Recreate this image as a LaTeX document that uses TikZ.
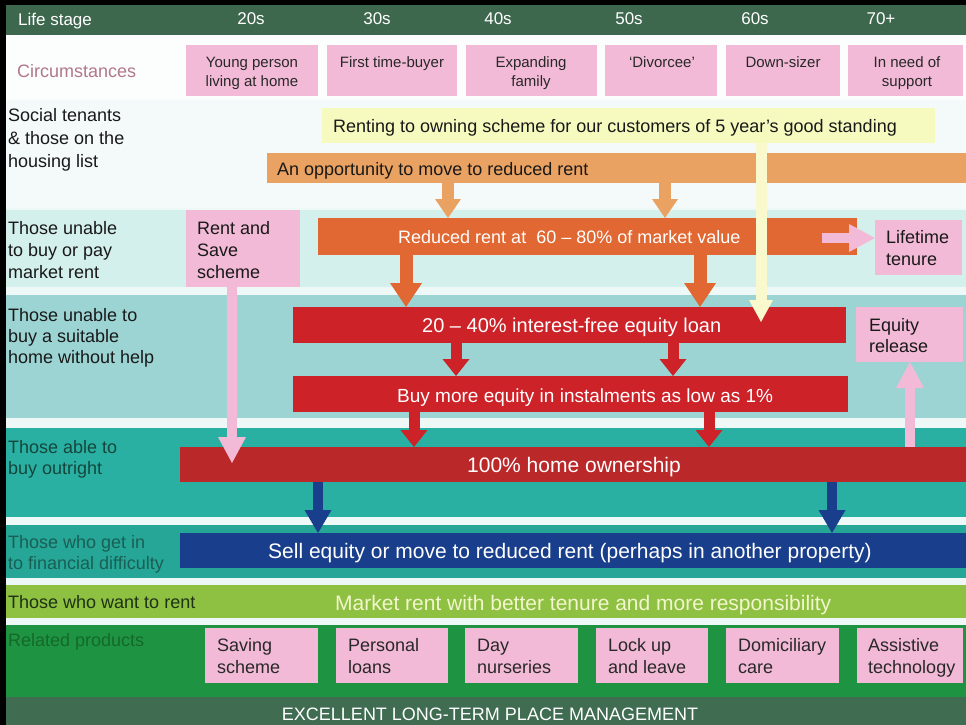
\documentclass[tikz,border=0pt]{standalone}
\usepackage{fontspec}
\setmainfont{Liberation Sans}
\usetikzlibrary{arrows.meta}
\definecolor{hdrc}{RGB}{62,104,78}
\definecolor{rowA}{RGB}{252,253,253}
\definecolor{rowA2}{RGB}{244,250,250}
\definecolor{rowB}{RGB}{212,240,236}
\definecolor{sepc}{RGB}{238,249,247}
\definecolor{rowC}{RGB}{156,212,212}
\definecolor{rowD}{RGB}{42,176,163}
\definecolor{rowE}{RGB}{38,166,150}
\definecolor{rowF}{RGB}{142,192,66}
\definecolor{rowG}{RGB}{30,148,66}
\definecolor{rowH}{RGB}{64,108,82}
\definecolor{pinkc}{RGB}{242,186,214}
\definecolor{circc}{RGB}{176,120,140}
\definecolor{yellc}{RGB}{246,250,190}
\definecolor{yarrc}{RGB}{250,248,205}
\definecolor{oppc}{RGB}{234,162,98}
\definecolor{rrc}{RGB}{225,104,50}
\definecolor{redc}{RGB}{204,34,40}
\definecolor{homec}{RGB}{186,40,42}
\definecolor{bluec}{RGB}{24,62,140}
\definecolor{labc}{RGB}{25,25,25}
\definecolor{ablec}{RGB}{20,70,60}
\definecolor{diffc}{RGB}{25,95,85}
\definecolor{wantc}{RGB}{30,50,20}
\definecolor{relc}{RGB}{20,105,40}
\definecolor{mktc}{RGB}{242,246,205}
\definecolor{boxt}{RGB}{40,40,40}
\begin{document}
\begin{tikzpicture}[x=1pt,y=-1pt,
  bx/.style={anchor=north west, inner sep=0pt, outer sep=0pt, draw=none},
  hd/.style={inner sep=0pt, text=white, font=\fontsize{17}{20}\selectfont},
  lab/.style={anchor=north west, inner sep=0pt, align=left, text=labc, font=\fontsize{18}{22}\selectfont},
  ctext/.style={anchor=north, inner sep=0pt, align=center, text=boxt, font=\fontsize{15}{19}\selectfont},
  mt/.style={anchor=north west, inner sep=0pt, font=\fontsize{18}{22}\selectfont},
  oarr/.style={oppc, line width=12pt, -{Triangle[width=26pt,length=19pt,line width=0pt]}},
  rarr/.style={rrc, line width=13pt, -{Triangle[width=32pt,length=24pt,line width=0pt]}},
  darr/.style={redc, line width=11pt, -{Triangle[width=27pt,length=17pt,line width=0pt]}},
  barr/.style={bluec, line width=10pt, -{Triangle[width=27pt,length=23pt,line width=0pt]}},
  parr/.style={pinkc, line width=10pt, -{Triangle[width=28pt,length=26pt,line width=0pt]}},
  yarr/.style={yarrc, line width=11pt, -{Triangle[width=24pt,length=22pt,line width=0pt]}}
]
\useasboundingbox (0,0) rectangle (966,725);
% background bands
\fill[white] (0,0) rectangle (966,725);
\fill[hdrc] (0,5) rectangle (966,35);
\fill[rowA] (0,35) rectangle (966,100);
\fill[rowA2] (0,100) rectangle (966,208);
\fill[sepc] (0,208) rectangle (966,210);
\fill[rowB] (0,210) rectangle (966,287);
\fill[sepc] (0,287) rectangle (966,295);
\fill[rowC] (0,295) rectangle (966,418);
\fill[sepc] (0,418) rectangle (966,428);
\fill[rowD] (0,428) rectangle (966,517);
\fill[sepc] (0,517) rectangle (966,525);
\fill[rowE] (0,525) rectangle (966,578);
\fill[sepc] (0,578) rectangle (966,585);
\fill[rowF] (0,585) rectangle (966,618);
\fill[sepc] (0,618) rectangle (966,625);
\fill[rowG] (0,625) rectangle (966,697);
\fill[rowH] (0,697) rectangle (966,725);
\fill[black] (0,0) rectangle (966,5);
\fill[black] (0,0) rectangle (6,725);

% header
\node[hd, anchor=north west] (hls) at (18,12.5) {Life stage};
\node[hd, anchor=north] (h20) at (251,12.5) {20s};
\node[hd, anchor=north] (h30) at (377,12.5) {30s};
\node[hd, anchor=north] (h40) at (498,12.5) {40s};
\node[hd, anchor=north] (h50) at (629,12.5) {50s};
\node[hd, anchor=north] (h60) at (755,12.5) {60s};
\node[hd, anchor=north] (h70) at (881,12.5) {70+};

% circumstances
\node[lab, text=circc] (circ) at (17,64.5) {Circumstances};
\node[bx, fill=pinkc, minimum width=132pt, minimum height=51pt] (c1) at (186,45) {};
\node[bx, fill=pinkc, minimum width=130pt, minimum height=51pt] (c2) at (327,45) {};
\node[bx, fill=pinkc, minimum width=131pt, minimum height=51pt] (c3) at (466,45) {};
\node[bx, fill=pinkc, minimum width=112pt, minimum height=51pt] (c4) at (605,45) {};
\node[bx, fill=pinkc, minimum width=114pt, minimum height=51pt] (c5) at (726,45) {};
\node[bx, fill=pinkc, minimum width=115pt, minimum height=51pt] (c6) at (848,45) {};
\node[ctext] (c1t) at (252,56.6) {Young person\\living at home};
\node[ctext] (c2t) at (392,56.6) {First time-buyer};
\node[ctext] (c3t) at (531,56.6) {Expanding\\family};
\node[ctext] (c4t) at (662,56.6) {`Divorcee'};
\node[ctext] (c5t) at (783,56.6) {Down-sizer};
\node[ctext] (c6t) at (907,56.6) {In need of\\support};

% left labels
\node[lab, font=\fontsize{18}{23}\selectfont] (l1) at (8,108.5) {Social tenants\\\& those on the\\housing list};
\node[lab] (l2) at (8,221.5) {Those unable\\to buy or pay\\market rent};
\node[lab, font=\fontsize{18}{21}\selectfont] (l3) at (8,308.5) {Those unable to\\buy a suitable\\home without help};
\node[lab, text=ablec, font=\fontsize{18}{21}\selectfont] (l4) at (8,440.5) {Those able to\\buy outright};
\node[lab, text=diffc, font=\fontsize{18}{21}\selectfont] (l5) at (8,535.5) {Those who get in\\to financial difficulty};
\node[lab, text=wantc] (l6) at (8,595.5) {Those who want to rent};
\node[lab, text=relc] (l7) at (8,633.5) {Related products};

% main boxes
\node[bx, fill=yellc, minimum width=613pt, minimum height=35pt] (ren) at (322,108) {};
\node[bx, fill=oppc, minimum width=699pt, minimum height=30pt] (opp) at (267,153) {};
\node[bx, fill=pinkc, minimum width=114pt, minimum height=77pt] (rs) at (186,210) {};
\node[bx, fill=rrc, minimum width=539pt, minimum height=37pt] (rr) at (318,218) {};
\node[bx, fill=pinkc, minimum width=87pt, minimum height=55pt] (lt) at (875,220) {};
\node[bx, fill=redc, minimum width=553pt, minimum height=36pt] (eq) at (293,307) {};
\node[bx, fill=pinkc, minimum width=107pt, minimum height=55pt] (er) at (856,307) {};
\node[bx, fill=redc, minimum width=555pt, minimum height=36pt] (bm) at (293,376) {};
\node[bx, fill=homec, minimum width=786pt, minimum height=35pt] (home) at (180,447) {};
\node[bx, fill=bluec, minimum width=786pt, minimum height=35pt] (sell) at (180,533) {};
\node[bx, fill=pinkc, minimum width=113pt, minimum height=55pt] (p1) at (205,628) {};
\node[bx, fill=pinkc, minimum width=112pt, minimum height=55pt] (p2) at (336,628) {};
\node[bx, fill=pinkc, minimum width=113pt, minimum height=55pt] (p3) at (465,628) {};
\node[bx, fill=pinkc, minimum width=112pt, minimum height=55pt] (p4) at (596,628) {};
\node[bx, fill=pinkc, minimum width=113pt, minimum height=55pt] (p5) at (726,628) {};
\node[bx, fill=pinkc, minimum width=106pt, minimum height=55pt] (p6) at (857,628) {};

% arrow columns
\coordinate (xo1) at (448,0);
\coordinate (xo2) at (665,0);
\coordinate (xr1) at (406,0);
\coordinate (xr2) at (700,0);
\coordinate (xe1) at (456,0);
\coordinate (xe2) at (673,0);
\coordinate (xb1) at (414,0);
\coordinate (xb2) at (709,0);
\coordinate (xl1) at (318,0);
\coordinate (xl2) at (832,0);
\coordinate (xer) at (910,0);
\coordinate (ytip) at (761,322);
\coordinate (ptip) at (232,463);
\coordinate (lts) at (822,238);

% connectors
\draw[oarr] (opp.south -| xo1) -- (rr.north -| xo1);
\draw[oarr] (opp.south -| xo2) -- (rr.north -| xo2);
\draw[rarr] (rr.south -| xr1) -- (eq.north -| xr1);
\draw[rarr] (rr.south -| xr2) -- (eq.north -| xr2);
\draw[darr] (eq.south -| xe1) -- (bm.north -| xe1);
\draw[darr] (eq.south -| xe2) -- (bm.north -| xe2);
\draw[darr] (bm.south -| xb1) -- (home.north -| xb1);
\draw[darr] (bm.south -| xb2) -- (home.north -| xb2);
\draw[barr] (home.south -| xl1) -- (sell.north -| xl1);
\draw[barr] (home.south -| xl2) -- (sell.north -| xl2);
\draw[yarr] (ren.south -| ytip) -- (ytip);
\draw[parr] (rs.south -| ptip) -- (ptip);
\draw[parr] (lts) -- (lt.west |- lts);
\draw[parr] (home.north -| xer) -- (er.south -| xer);

% texts
\node[mt, text=labc] (rent) at (333,119.5) {Renting to owning scheme for our customers of 5 year's good standing};
\node[mt, text=labc] (oppt) at (277,162.5) {An opportunity to move to reduced rent};
\node[mt, text=white] (rrt) at (398,230.5) {Reduced rent at\ \ 60 -- 80\% of market value};
\node[mt, text=white, font=\fontsize{20}{24}\selectfont] (eqt) at (422,317.8) {20 -- 40\% interest-free equity loan};
\node[mt, text=white, font=\fontsize{19}{23}\selectfont] (bmt) at (397,388.2) {Buy more equity in instalments as low as 1\%};
\node[lab] (ltt) at (886,230.5) {Lifetime\\tenure};
\node[lab] (rst) at (197,221.5) {Rent and\\Save\\scheme};
\node[lab, font=\fontsize{18}{21}\selectfont] (ert) at (869,318.5) {Equity\\release};
\node[mt, text=white, font=\fontsize{21}{25}\selectfont] (homet) at (467,457.4) {100\% home ownership};
\node[mt, text=white, font=\fontsize{21}{25}\selectfont] (sellt) at (268,543.4) {Sell equity or move to reduced rent (perhaps in another property)};
\node[mt, text=mktc, font=\fontsize{21}{25}\selectfont] (mkt) at (335,595.4) {Market rent with better tenure and more responsibility};
\node[lab, text=boxt] (p1t) at (217,638.5) {Saving\\scheme};
\node[lab, text=boxt] (p2t) at (348,638.5) {Personal\\loans};
\node[lab, text=boxt] (p3t) at (477,638.5) {Day\\nurseries};
\node[lab, text=boxt] (p4t) at (608,638.5) {Lock up\\and leave};
\node[lab, text=boxt] (p5t) at (738,638.5) {Domiciliary\\care};
\node[lab, text=boxt] (p6t) at (868,638.5) {Assistive\\technology};
\node[anchor=north, inner sep=0pt, text=white, font=\fontsize{18}{22}\selectfont] (bot) at (490,707.5) {EXCELLENT LONG-TERM PLACE MANAGEMENT};
\end{tikzpicture}
\end{document}
